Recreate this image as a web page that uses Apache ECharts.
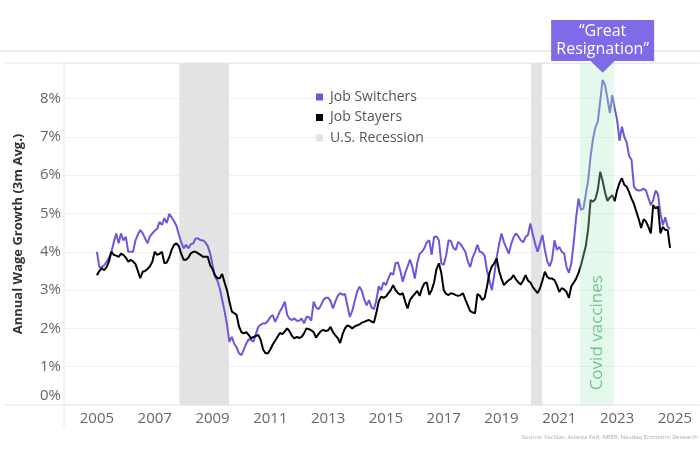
<!DOCTYPE html>
<html><head><meta charset="utf-8">
<script src="https://cdn.jsdelivr.net/npm/echarts@6/dist/echarts.min.js"></script>
<style>html,body{margin:0;padding:0;background:#fff}#c{width:700px;height:450px}</style>
</head><body><div id="c"></div>
<script>
const startYear = 2005;
const yearTicks = [2005, 2007, 2009, 2011, 2013, 2015, 2017, 2019, 2021, 2023, 2025];
const yTicks = [0, 1, 2, 3, 4, 5, 6, 7, 8];
// monthly, Jan 2005 .. Nov 2024
const switchers = [
  4.0, 3.6, 3.6, 3.65, 3.74, 3.85, 4.0, 4.25, 4.48, 4.22, 4.48, 4.3,
  4.39, 4.0, 4.0, 4.0, 4.3, 4.45, 4.57, 4.48, 4.35, 4.22, 4.4, 4.48,
  4.55, 4.6, 4.78, 4.7, 4.88, 4.75, 4.99, 4.9, 4.8, 4.68, 4.45, 4.25,
  4.09, 4.18, 4.09, 4.2, 4.22, 4.35, 4.35, 4.3, 4.3, 4.25, 4.15, 3.96,
  3.65, 3.35, 3.25, 3.05, 2.75, 2.45, 2.1, 1.65, 1.78, 1.6, 1.5, 1.35,
  1.3, 1.45, 1.6, 1.72, 1.7, 1.65, 1.85, 2.04, 2.1, 2.13, 2.13, 2.2,
  2.3, 2.35, 2.17, 2.3, 2.45, 2.55, 2.7, 2.35, 2.25, 2.22, 2.26, 2.2,
  2.2, 2.26, 2.13, 2.3, 2.3, 2.2, 2.7, 2.55, 2.5, 2.6, 2.74, 2.8,
  2.8, 2.72, 2.52, 2.7, 2.85, 2.92, 2.88, 2.9, 2.6, 2.3, 2.45, 2.7,
  2.95, 3.09, 2.98, 2.75, 2.6, 2.74, 2.55, 2.5, 2.72, 3.1, 3.0, 3.2,
  3.13, 3.3, 3.45, 3.4, 3.7, 3.72, 3.5, 3.22, 3.45, 3.62, 3.8, 3.6,
  3.3, 3.7, 3.95, 4.0, 4.1, 4.25, 4.3, 3.92, 4.39, 4.4, 4.3, 3.7,
  3.66, 3.9, 4.3, 4.28, 4.1, 4.05, 4.26, 4.2, 4.1, 4.0, 3.75, 3.6,
  3.85, 4.0, 4.18, 4.0, 3.98, 3.9, 3.5, 3.25, 3.0, 3.4, 3.85, 4.2,
  4.48, 4.25, 4.1, 3.95, 4.2, 4.38, 4.48, 4.4, 4.3, 4.25, 4.39, 4.44,
  4.74, 4.45, 4.2, 4.0, 4.22, 4.44, 4.05, 3.75, 3.62, 3.8, 4.3, 4.05,
  4.13, 4.0, 3.96, 3.6, 3.45, 3.7, 4.25, 4.9, 5.39, 5.1, 5.12, 5.5,
  5.87, 6.5, 6.95, 7.25, 7.4, 7.95, 8.49, 8.35, 8.0, 7.62, 8.09, 7.75,
  7.45, 6.9, 7.27, 7.0, 6.85, 6.5, 6.4, 5.7, 5.62, 5.6, 5.61, 5.65,
  5.6, 5.4, 5.22, 5.35, 5.6, 5.5, 5.0, 4.7, 4.9, 4.65, 4.6
];
const stayers = [
  3.39, 3.5, 3.57, 3.52, 3.6, 3.75, 4.0, 3.92, 3.9, 3.87, 3.95, 3.92,
  3.85, 3.74, 3.79, 3.75, 3.68, 3.5, 3.31, 3.48, 3.5, 3.55, 3.62, 3.74,
  4.0, 3.92, 3.95, 4.0, 3.7, 3.72, 3.85, 4.05, 4.18, 4.22, 4.15, 3.95,
  3.79, 3.79, 3.85, 3.96, 4.0, 4.0, 3.96, 3.92, 3.87, 3.87, 3.87, 3.65,
  3.55, 3.39, 3.31, 3.31, 3.42, 3.2, 3.0, 2.7, 2.44, 2.4, 2.35, 2.05,
  1.9, 1.87, 1.9, 1.83, 1.74, 1.78, 1.8, 1.83, 1.7, 1.45, 1.35, 1.35,
  1.45, 1.58, 1.68, 1.78, 1.88, 1.85, 1.92, 2.0, 1.92, 1.8, 1.74, 1.78,
  1.75, 1.78, 1.87, 2.0, 1.98, 1.95, 1.9, 1.76, 1.85, 1.93, 1.96, 1.93,
  1.95, 2.04, 1.9, 1.82, 1.75, 1.62, 1.85, 2.0, 2.08, 2.05, 2.0, 2.05,
  2.08, 2.1, 2.15, 2.17, 2.2, 2.22, 2.18, 2.15, 2.4, 2.7, 2.83, 2.8,
  2.83, 2.92, 3.0, 3.13, 3.0, 2.92, 2.88, 2.92, 2.7, 2.52, 2.74, 2.83,
  2.9, 2.98, 2.85, 3.05, 3.18, 3.2, 2.88, 3.0, 3.2, 3.55, 3.7, 3.45,
  3.0, 2.9, 2.87, 2.92, 2.9, 2.87, 2.85, 2.87, 2.92, 2.75, 2.6, 2.45,
  2.42, 2.39, 2.9, 2.85, 2.74, 2.8, 3.1, 3.45, 3.62, 3.7, 3.83, 3.5,
  3.3, 3.13, 3.2, 3.26, 3.3, 3.39, 3.28, 3.2, 3.15, 3.25, 3.39, 3.25,
  3.2, 3.08, 3.0, 2.92, 3.05, 3.25, 3.48, 3.35, 3.3, 3.3, 3.26, 3.13,
  2.95, 3.05, 3.02, 2.95, 2.8, 3.1, 3.2, 3.3, 3.45, 3.65, 3.9, 4.15,
  4.6, 5.35, 5.31, 5.38, 5.62, 6.09, 5.85, 5.55, 5.33, 5.42, 5.48, 5.32,
  5.6, 5.8, 5.92, 5.75, 5.7, 5.55, 5.39, 5.25, 5.05, 4.85, 4.62, 4.85,
  4.79, 4.65, 4.48, 5.22, 5.13, 5.18, 4.48, 4.65, 4.57, 4.57, 4.1
];
const recessions = [[2007.85, 2009.57], [2020.02, 2020.4]];
const vaccineBand = [2021.71, 2022.9];
const peak = [2022.5, 8.49];

const FONT = '"Open Sans", "Noto Sans", sans-serif';
const PURPLE = '#6b57dc';
const toXY = arr => arr.map((v, i) => [startYear + i / 12, v]);

const chart = echarts.init(document.getElementById('c'), null, { renderer: 'canvas' });
chart.setOption({
  animation: false,
  backgroundColor: '#fff',
  textStyle: { fontFamily: FONT },
  grid: { left: 64, right: 2, top: 63, bottom: 45, containLabel: false },
  legend: {
    data: ['Job Switchers', 'Job Stayers', 'U.S. Recession'],
    orient: 'vertical', left: 316, top: 90, padding: 0, icon: 'rect',
    itemWidth: 7, itemHeight: 7, itemGap: 6.5, selectedMode: false,
    textStyle: { fontSize: 14, color: '#555', fontFamily: FONT, lineHeight: 14, padding: [0, 0, 0, 2] }
  },
  xAxis: {
    type: 'value', min: 2003.86, max: 2025.8,
    splitLine: { show: false }, axisLine: { show: false }, axisTick: { show: false },
    axisLabel: { customValues: yearTicks, formatter: v => String(Math.round(v)), color: '#666', fontSize: 15, margin: 6, fontFamily: FONT }
  },
  yAxis: {
    type: 'value', min: 0, max: 8.93, interval: 1,
    name: 'Annual Wage Growth (3m Avg.)', nameLocation: 'middle', nameGap: 39,
    nameTextStyle: { fontWeight: 'bold', fontSize: 13, color: '#333', fontFamily: FONT },
    splitLine: { lineStyle: { color: '#f0f0f0', width: 1 } },
    axisLine: { show: false }, axisTick: { show: false },
    axisLabel: {
      showMaxLabel: false, color: '#666', fontSize: 15, margin: 3, fontFamily: FONT,
      formatter: v => yTicks.includes(v) ? (v === 0 ? '{z|0%}' : v + '%') : '',
      rich: { z: { padding: [0, 0, 18, 0], fontSize: 15, color: '#666', fontFamily: FONT } }
    }
  },
  series: [
    {
      name: 'U.S. Recession', type: 'line', data: [], color: '#e3e3e3',
      markArea: { silent: true, z: 1, itemStyle: { color: '#e3e3e3' },
        data: recessions.map(r => [{ xAxis: r[0] }, { xAxis: r[1] }]) }
    },
    {
      name: 'Job Switchers', type: 'line', data: toXY(switchers), showSymbol: false,
      color: PURPLE, lineStyle: { width: 2, color: PURPLE }, z: 3
    },
    {
      name: 'Job Stayers', type: 'line', data: toXY(stayers), showSymbol: false,
      color: '#000', lineStyle: { width: 2, color: '#000' }, z: 3
    },
    {
      name: 'Covid vaccines', type: 'line', data: [],
      markArea: { silent: true, z: 10, itemStyle: { color: 'rgba(170,235,195,0.32)' },
        data: [[{ xAxis: vaccineBand[0] }, { xAxis: vaccineBand[1] }]] }
    }
  ]
});

const px = p => chart.convertToPixel({ gridIndex: 0 }, p);
const tl = px([2003.86, 8.93]);
const br = px([2025.8, 0]);
const pk = px(peak);
const vc = px([(vaccineBand[0] + vaccineBand[1]) / 2, 0.2]);
const boxW = 103, boxTop = 20, boxBottom = 61;
const lineColor = '#e6e6e6';
chart.setOption({
  graphic: [
    { type: 'line', shape: { x1: 0, y1: 51, x2: 700, y2: 51 }, style: { stroke: '#ececec', lineWidth: 2 }, silent: true },
    { type: 'line', shape: { x1: 5, y1: tl[1], x2: 700, y2: tl[1] }, style: { stroke: lineColor, lineWidth: 1 }, silent: true },
    { type: 'line', shape: { x1: 5, y1: br[1], x2: 700, y2: br[1] }, style: { stroke: lineColor, lineWidth: 1 }, silent: true },
    { type: 'line', shape: { x1: tl[0], y1: tl[1], x2: tl[0], y2: 428 }, style: { stroke: lineColor, lineWidth: 1 }, silent: true },
    { type: 'rect', shape: { x: pk[0] - boxW / 2, y: boxTop, width: boxW, height: boxBottom - boxTop }, style: { fill: '#7d6be8' }, z: 20 },
    { type: 'polygon', shape: { points: [[pk[0] - 12, boxBottom], [pk[0] + 12, boxBottom], [pk[0], pk[1] - 7]] }, style: { fill: '#7d6be8' }, z: 20 },
    { type: 'text', x: pk[0], y: (boxTop + boxBottom) / 2, z: 21,
      style: { text: '\u201CGreat\nResignation\u201D', fill: '#fff', fontSize: 16, lineHeight: 18, align: 'center', verticalAlign: 'middle', fontFamily: FONT } },
    { type: 'text', x: vc[0], y: vc[1] - 7, rotation: Math.PI / 2, z: 21,
      style: { text: 'Covid vaccines', fill: '#72c48e', fontSize: 17, align: 'left', verticalAlign: 'middle', fontFamily: FONT } },
    { type: 'text', x: 698, y: 437, z: 21,
      style: { text: 'Source: FactSet, Atlanta Fed, NBER, Nasdaq Economic Research', fill: '#aaa', fontSize: 6, align: 'right', verticalAlign: 'middle', fontFamily: FONT } }
  ]
});
</script>
</body></html>
